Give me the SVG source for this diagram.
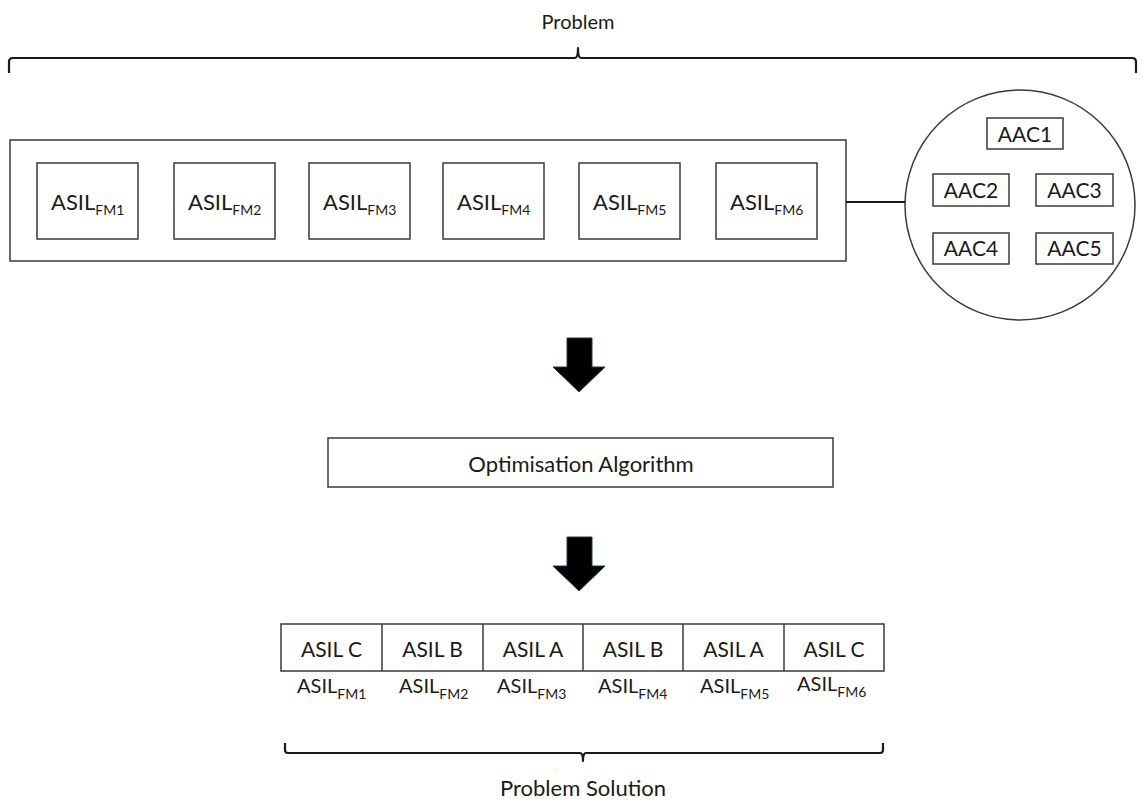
<svg xmlns="http://www.w3.org/2000/svg" width="1143" height="800" viewBox="0 0 1143 800">
  <style>
    .box { fill: #ffffff; stroke: #3a3a3a; stroke-width: 1.5; }
    .brace { fill: none; stroke: #1a1a1a; stroke-width: 2.2; stroke-linejoin: round; }
    .link { fill: none; stroke: #1a1a1a; stroke-width: 2.2; }
    .arrow { fill: #000000; stroke: #1f3b57; stroke-width: 1; }
    text { font-family: Lato, "Liberation Sans", sans-serif; fill: #1a1a1a; }
    .big { font-size: 22px; }
    .aac { font-size: 21px; text-anchor: middle; }
    .cell { font-size: 21px; text-anchor: middle; }
    .lbl { font-size: 20px; }
    .sub { font-size: 14px; }
    .title { font-size: 20px; text-anchor: middle; }
  </style>

  <!-- top brace and caption -->
  <g id="problem-brace">
    <text class="title" x="578" y="29">Problem</text>
    <path class="brace" d="M9,73 V62 Q9,58 13,58 H575 Q578,58 578,48 Q578,58 581,58 H1132 Q1136,58 1136,62 V73"/>
  </g>

  <!-- failure mode container -->
  <g id="fm-container">
    <rect class="box" x="10" y="140" width="836" height="121"/>
  </g>
  <g id="fm1"><rect class="box" x="37" y="163" width="101" height="76"/><text class="big" x="51" y="210">ASIL<tspan class="sub" dy="5">FM1</tspan></text></g>
  <g id="fm2"><rect class="box" x="174" y="163" width="101" height="76"/><text class="big" x="188" y="210">ASIL<tspan class="sub" dy="5">FM2</tspan></text></g>
  <g id="fm3"><rect class="box" x="309" y="163" width="101" height="76"/><text class="big" x="323" y="210">ASIL<tspan class="sub" dy="5">FM3</tspan></text></g>
  <g id="fm4"><rect class="box" x="443" y="163" width="101" height="76"/><text class="big" x="457" y="210">ASIL<tspan class="sub" dy="5">FM4</tspan></text></g>
  <g id="fm5"><rect class="box" x="579" y="163" width="101" height="76"/><text class="big" x="593" y="210">ASIL<tspan class="sub" dy="5">FM5</tspan></text></g>
  <g id="fm6"><rect class="box" x="716" y="163" width="101" height="76"/><text class="big" x="730" y="210">ASIL<tspan class="sub" dy="5">FM6</tspan></text></g>

  <!-- AAC pool -->
  <g id="aac-pool">
    <circle class="box" cx="1020" cy="205" r="115"/>
  </g>
  <g id="aac1"><rect class="box" x="987" y="118" width="76" height="31"/><text class="aac" x="1025" y="142">AAC1</text></g>
  <g id="aac2"><rect class="box" x="933" y="174" width="76" height="32"/><text class="aac" x="971" y="198">AAC2</text></g>
  <g id="aac3"><rect class="box" x="1036" y="174" width="77" height="32"/><text class="aac" x="1074.5" y="198">AAC3</text></g>
  <g id="aac4"><rect class="box" x="933" y="233" width="76" height="31"/><text class="aac" x="971" y="256">AAC4</text></g>
  <g id="aac5"><rect class="box" x="1036" y="233" width="77" height="31"/><text class="aac" x="1074.5" y="256">AAC5</text></g>

  <!-- connectors -->
  <g id="connectors">
    <line class="link" x1="846" y1="202" x2="905" y2="202"/>
    <path class="arrow" d="M567,338 H592 V367 H605 L579,392 L553,367 H567 Z"/>
    <path class="arrow" d="M567,537 H592 V566 H605 L579,591 L553,566 H567 Z"/>
  </g>

  <!-- optimiser -->
  <g id="optimiser">
    <rect class="box" x="328" y="438" width="505" height="49"/>
    <text x="581" y="472" font-size="22" text-anchor="middle">Optimisation Algorithm</text>
  </g>

  <!-- solution row -->
  <g id="solution">
    <rect class="box" x="281" y="624" width="603" height="47"/>
    <line class="box" x1="382" y1="624" x2="382" y2="671"/>
    <line class="box" x1="483" y1="624" x2="483" y2="671"/>
    <line class="box" x1="583" y1="624" x2="583" y2="671"/>
    <line class="box" x1="683" y1="624" x2="683" y2="671"/>
    <line class="box" x1="784" y1="624" x2="784" y2="671"/>
    <text class="cell" x="331.5" y="657">ASIL C</text>
    <text class="cell" x="432.5" y="657">ASIL B</text>
    <text class="cell" x="533" y="657">ASIL A</text>
    <text class="cell" x="633" y="657">ASIL B</text>
    <text class="cell" x="733.5" y="657">ASIL A</text>
    <text class="cell" x="834" y="657">ASIL C</text>
    <text class="lbl" x="297" y="693">ASIL<tspan class="sub" dy="6">FM1</tspan></text>
    <text class="lbl" x="399" y="693">ASIL<tspan class="sub" dy="6">FM2</tspan></text>
    <text class="lbl" x="497" y="693">ASIL<tspan class="sub" dy="6">FM3</tspan></text>
    <text class="lbl" x="598" y="693">ASIL<tspan class="sub" dy="6">FM4</tspan></text>
    <text class="lbl" x="700" y="693">ASIL<tspan class="sub" dy="6">FM5</tspan></text>
    <text class="lbl" x="797" y="691">ASIL<tspan class="sub" dy="6">FM6</tspan></text>
  </g>

  <!-- bottom brace and caption -->
  <g id="solution-brace">
    <path class="brace" d="M285,743 V750 Q285,753 288,753 H580 Q583,753 583,761 Q583,753 586,753 H880 Q883,753 883,750 V743"/>
    <text x="583" y="796" font-size="22" text-anchor="middle">Problem Solution</text>
  </g>
</svg>
